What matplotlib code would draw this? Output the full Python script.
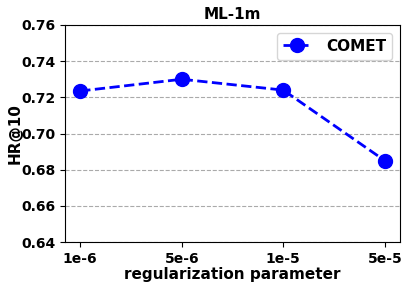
import matplotlib
matplotlib.use("Agg")
import matplotlib.pyplot as plt

categories = ["1e-6", "5e-6", "1e-5", "5e-5"]
comet = [0.7235, 0.730, 0.724, 0.685]
yticks = [0.64, 0.66, 0.68, 0.70, 0.72, 0.74, 0.76]

fig = plt.figure(figsize=(4.1, 2.88), dpi=100)
ax = fig.add_axes([65/410, 1-242/288, 335/410, 217/288])
x = list(range(len(categories)))
ax.plot(x, comet, color="blue", linestyle="--", linewidth=2, marker="o",
        markersize=10, label="COMET")
ax.set_ylim(0.64, 0.76)
ax.set_yticks(yticks)
ax.set_yticklabels([f"{v:.2f}" for v in yticks], fontweight="bold", fontsize=10)
ax.set_xticks(x)
ax.set_xticklabels(categories, fontweight="bold", fontsize=10)
ax.set_xlim(-0.15, 3.15)
ax.yaxis.grid(True, linestyle="--", color="#aaaaaa")
ax.set_axisbelow(True)
ax.set_title("ML-1m", fontweight="bold", fontsize=11, pad=4)
ax.set_xlabel("regularization parameter", fontweight="bold", fontsize=11, labelpad=1)
ax.set_ylabel("HR@10", fontweight="bold", fontsize=11, labelpad=-1)
ax.legend(loc="upper right", prop={"weight": "bold", "size": 11},
          handlelength=1.8, handletextpad=1.0, borderaxespad=0.5)
fig.savefig("out.png", dpi=100)
